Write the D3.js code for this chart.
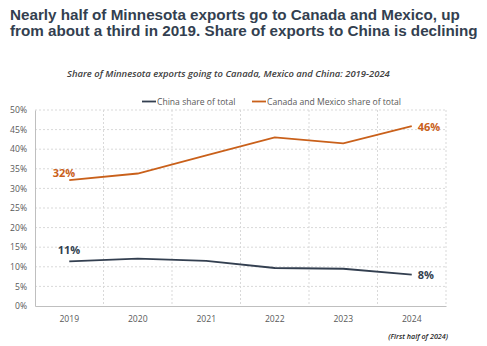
<!DOCTYPE html>
<html lang="en">
<head>
<meta charset="utf-8">
<title>Minnesota exports</title>
<style>
  body { margin: 0; background: #fff; }
  svg { display: block; }
</style>
</head>
<body>
<svg width="487" height="346"></svg>
<script src="https://cdn.jsdelivr.net/npm/d3@7/dist/d3.min.js"></script>
<script>

const years = ["2019", "2020", "2021", "2022", "2023", "2024"]
const chinaShare = [11.4, 12.1, 11.5, 9.7, 9.5, 8.0]
const canMexShare = [32.1, 33.8, 38.4, 43.0, 41.5, 45.9]
const yTicks = [0, 5, 10, 15, 20, 25, 30, 35, 40, 45, 50]

const navy = "#333f50",
      orange = "#c9601a",
      grey = "#595959"

const margin = {top: 110, bottom: 40, left: 35, right: 41},
      width = 487,
      height = 346,
      svg = d3.select("svg")

const x = d3.scaleBand().domain(years).range([margin.left, width - margin.right]),
      y = d3.scaleLinear().domain([0, 50]).range([height - margin.bottom, margin.top])

const cx = d => x(d) + x.bandwidth() / 2

// shrink/grow a text element's font so it spans the given width
function fit(sel, w) {
  const fs = parseFloat(sel.style("font-size"))
  const len = sel.node().getComputedTextLength()
  sel.style("font-size", (fs * w / len) + "px")
}

// title
const title = ["Nearly half of Minnesota exports go to Canada and Mexico, up",
               "from about a third in 2019. Share of exports to China is declining"]
const t1 = svg.append("text")
    .attr("x", 10).attr("y", 19.5)
    .style("font-family", "'Liberation Sans', Arial, sans-serif")
    .style("font-weight", 700).style("font-size", "14px")
    .style("fill", navy)
    .text(title[0])
fit(t1, 450)
svg.append("text")
    .attr("x", 10).attr("y", 36.2)
    .style("font-family", "'Liberation Sans', Arial, sans-serif")
    .style("font-weight", 700).style("font-size", t1.style("font-size"))
    .style("fill", navy)
    .text(title[1])

const sub = svg.append("text")
    .attr("x", 67).attr("y", 77)
    .style("font-family", "'Open Sans', sans-serif")
    .style("font-style", "italic").style("font-weight", 600)
    .style("font-size", "9px").style("fill", "#404040")
    .text("Share of Minnesota exports going to Canada, Mexico and China: 2019-2024")
fit(sub, 323)

// grid
svg.append("g")
  .selectAll("line")
  .data(yTicks.slice(1))
  .enter().append("line")
    .attr("x1", margin.left).attr("x2", width - margin.right)
    .attr("y1", d => y(d)).attr("y2", d => y(d))
    .style("stroke", "#d9d9d9").style("stroke-dasharray", "2,2")

svg.append("g")
  .selectAll("line")
  .data(years)
  .enter().append("line")
    .attr("x1", d => x(d) + x.bandwidth()).attr("x2", d => x(d) + x.bandwidth())
    .attr("y1", y(50)).attr("y2", y(0))
    .style("stroke", "#d9d9d9").style("stroke-dasharray", "2,2")

// axes
const yAxis = svg.append("g")
    .attr("transform", `translate(${margin.left},0)`)
    .call(d3.axisLeft(y).tickValues(yTicks).tickSize(0).tickPadding(8).tickFormat(d => d + "%"))
yAxis.select(".domain").style("stroke", "#bfbfbf")

const xAxis = svg.append("g")
    .attr("transform", `translate(0,${y(0)})`)
    .call(d3.axisBottom(x).tickSize(0).tickPadding(10))
xAxis.select(".domain").style("stroke", "#bfbfbf")

svg.selectAll(".tick text")
    .style("font-family", "'Open Sans', sans-serif")
    .style("font-size", "8.6px").style("fill", grey)

// lines
const line = d3.line().x((d, i) => cx(years[i])).y(d => y(d))

;[[chinaShare, navy], [canMexShare, orange]].forEach(([vals, col]) => {
  svg.append("path")
      .datum(vals)
      .attr("d", line)
      .style("fill", "none").style("stroke", col).style("stroke-width", 1.8)
})

// end labels
const labels = [
  {v: canMexShare[0], x: cx(years[0]) - 16.5, y: y(canMexShare[0]) - 3, col: orange},
  {v: chinaShare[0], x: cx(years[0]) - 11.5, y: y(chinaShare[0]) - 7.5, col: navy},
  {v: canMexShare[5], x: cx(years[5]) + 6, y: y(canMexShare[5]) + 4.5, col: orange},
  {v: chinaShare[5], x: cx(years[5]) + 6, y: y(chinaShare[5]) + 4.5, col: navy}
]
svg.append("g")
  .selectAll("text")
  .data(labels)
  .enter().append("text")
    .attr("x", d => d.x).attr("y", d => d.y)
    .style("font-family", "'Open Sans', sans-serif")
    .style("font-weight", 700).style("font-size", "11px")
    .style("fill", d => d.col)
    .text(d => Math.round(d.v) + "%")

// legend
const legend = [["China share of total", navy, 142], ["Canada and Mexico share of total", orange, 252]]
const lg = svg.append("g").selectAll("g").data(legend).enter().append("g")
lg.append("line")
    .attr("x1", d => d[2]).attr("x2", d => d[2] + 14)
    .attr("y1", 101.5).attr("y2", 101.5)
    .style("stroke", d => d[1]).style("stroke-width", 1.8)
lg.append("text")
    .attr("x", d => d[2] + 15).attr("y", 104.5)
    .style("font-family", "'Open Sans', sans-serif")
    .style("font-size", "8.6px").style("fill", grey)
    .text(d => d[0])

svg.append("text")
    .attr("x", 448).attr("y", 338.5)
    .attr("text-anchor", "end")
    .style("font-family", "'Open Sans', sans-serif")
    .style("font-style", "italic").style("font-weight", 600)
    .style("font-size", "7.2px").style("fill", "#262626")
    .text("(First half of 2024)")

</script>
</body>
</html>
